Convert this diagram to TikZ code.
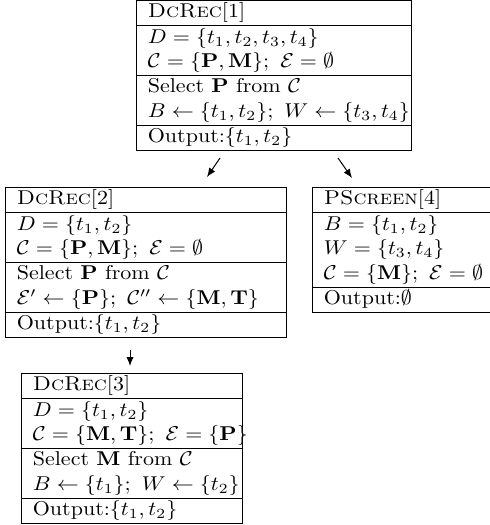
\documentclass[tikz,border=0pt]{standalone}
\usepackage{graphicx}
\usepackage{array}
\usetikzlibrary{arrows.meta}
\newcommand{\sx}[1]{\scalebox{1.1}[1]{#1}}
\begin{document}
\begin{tikzpicture}[x=1pt,y=1pt,
  box/.style={inner sep=0pt, outer sep=0pt, anchor=north west, font=\normalsize},
  arr/.style={-{Latex[length=4.5pt,width=3.6pt]}, line width=0.5pt}]
\useasboundingbox (0,0) rectangle (245,-262.5);
\setlength{\tabcolsep}{5pt}
\renewcommand{\arraystretch}{1.02}
\node[box] (b1) at (68,0) {\sx{\begin{tabular}{|w{l}{114.5pt}|}\hline
\textsc{DcRec}[1]\\\hline
$D=\{t_1,t_2,t_3,t_4\}$\\
$\mathcal{C}=\{\mathbf{P},\mathbf{M}\};\ \mathcal{E}=\emptyset$\\\hline
Select $\mathbf{P}$ from $\mathcal{C}$\\
$B\leftarrow\{t_1,t_2\};\ W\leftarrow\{t_3,t_4\}$\\\hline
Output:$\{t_1,t_2\}$\\\hline
\end{tabular}}};
\node[box] (b2) at (2.5,-93.5) {\sx{\begin{tabular}{|w{l}{117.3pt}|}\hline
\textsc{DcRec}[2]\\\hline
$D=\{t_1,t_2\}$\\
$\mathcal{C}=\{\mathbf{P},\mathbf{M}\};\ \mathcal{E}=\emptyset$\\\hline
Select $\mathbf{P}$ from $\mathcal{C}$\\
$\mathcal{E}'\leftarrow\{\mathbf{P}\};\ \mathcal{C}''\leftarrow\{\mathbf{M},\mathbf{T}\}$\\\hline
Output:$\{t_1,t_2\}$\\\hline
\end{tabular}}};
\node[box] (b4) at (156,-93.5) {\sx{\begin{tabular}{|w{l}{100pt}|}\hline
\textsc{PScreen}[4]\\\hline
$B=\{t_1,t_2\}$\\
$W=\{t_3,t_4\}$\\
$\mathcal{C}=\{\mathbf{M}\};\ \mathcal{E}=\emptyset$\\\hline
Output:$\emptyset$\\\hline
\end{tabular}}};
\node[box] (b3) at (10.5,-186.5) {\sx{\begin{tabular}{|w{l}{90pt}|}\hline
\textsc{DcRec}[3]\\\hline
$D=\{t_1,t_2\}$\\
$\mathcal{C}=\{\mathbf{M},\mathbf{T}\};\ \mathcal{E}=\{\mathbf{P}\}$\\\hline
Select $\mathbf{M}$ from $\mathcal{C}$\\
$B\leftarrow\{t_1\};\ W\leftarrow\{t_2\}$\\\hline
Output:$\{t_1,t_2\}$\\\hline
\end{tabular}}};
\coordinate (a1s) at (110,-79);
\coordinate (a1e) at (103.5,-88.5);
\coordinate (a2s) at (169,-79);
\coordinate (a2e) at (176,-89);
\coordinate (a3s) at (65,-175);
\coordinate (a3e) at (65,-183);
\draw[arr] (a1s) -- (a1e);
\draw[arr] (a2s) -- (a2e);
\draw[arr] (a3s) -- (a3e);
\end{tikzpicture}
\end{document}
